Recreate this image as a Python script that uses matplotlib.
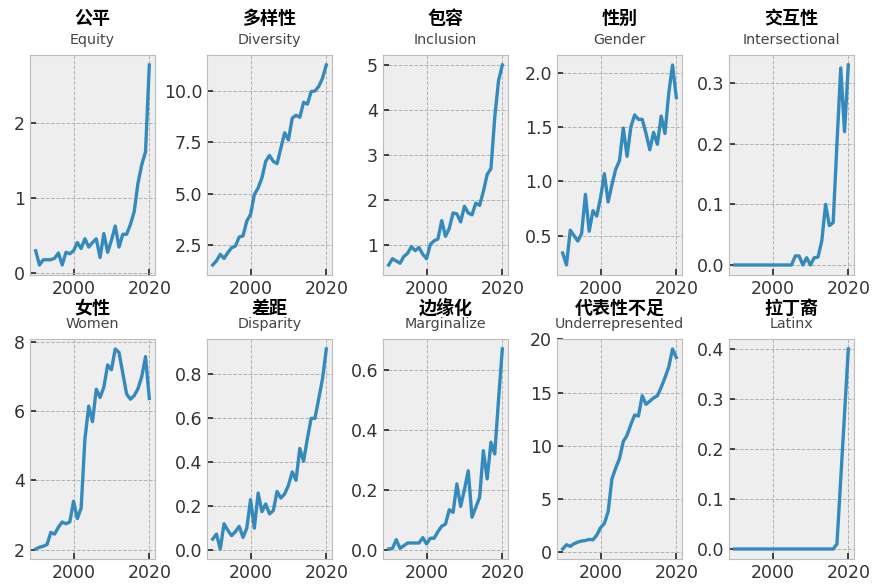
import matplotlib
matplotlib.use("Agg")
import matplotlib.pyplot as plt
from matplotlib.ticker import MultipleLocator

plt.style.use("bmh")

years = list(range(1990, 2021))

titles_zh = ["公平", "多样性", "包容", "性别", "交互性",
             "女性", "差距", "边缘化", "代表性不足", "拉丁裔"]
titles_en = ["Equity", "Diversity", "Inclusion", "Gender", "Intersectional",
             "Women", "Disparity", "Marginalize", "Underrepresented", "Latinx"]

equity = [0.30, 0.11, 0.18, 0.18, 0.18, 0.20, 0.27, 0.11, 0.28, 0.26,
          0.30, 0.41, 0.33, 0.46, 0.35, 0.41, 0.46, 0.21, 0.53, 0.28,
          0.44, 0.63, 0.35, 0.52, 0.52, 0.65, 0.82, 1.20, 1.45, 1.62, 2.78]
diversity = [1.53, 1.73, 2.05, 1.85, 2.13, 2.37, 2.45, 2.89, 2.94, 3.66,
             3.98, 4.95, 5.27, 5.76, 6.56, 6.85, 6.56, 6.45, 7.20, 7.95,
             7.60, 8.66, 8.80, 8.70, 9.43, 9.34, 9.95, 9.98, 10.20, 10.60, 11.24]
inclusion = [0.55, 0.69, 0.64, 0.59, 0.74, 0.81, 0.96, 0.87, 0.94, 0.79,
             0.69, 1.01, 1.09, 1.13, 1.54, 1.19, 1.37, 1.71, 1.69, 1.51,
             1.86, 1.71, 1.67, 1.93, 1.88, 2.19, 2.57, 2.70, 3.84, 4.66, 5.01]
gender = [0.34, 0.23, 0.55, 0.50, 0.45, 0.52, 0.88, 0.54, 0.73, 0.68,
          0.85, 1.07, 0.81, 0.97, 1.11, 1.19, 1.49, 1.23, 1.50, 1.61,
          1.57, 1.57, 1.44, 1.29, 1.45, 1.34, 1.60, 1.44, 1.81, 2.07, 1.77]
intersectional = [0.0, 0.0, 0.0, 0.0, 0.0, 0.0, 0.0, 0.0, 0.0, 0.0,
                  0.0, 0.0, 0.0, 0.0, 0.0, 0.0, 0.015, 0.015, 0.0, 0.012,
                  0.0, 0.012, 0.013, 0.04, 0.10, 0.065, 0.07, 0.20, 0.325, 0.22, 0.33]
women = [2.02, 2.07, 2.10, 2.15, 2.50, 2.45, 2.65, 2.80, 2.75, 2.80,
         3.40, 2.90, 3.20, 5.20, 6.15, 5.70, 6.64, 6.40, 6.70, 7.34,
         7.20, 7.80, 7.70, 7.10, 6.50, 6.35, 6.45, 6.65, 7.00, 7.58, 6.37]
disparity = [0.050, 0.073, 0.005, 0.120, 0.090, 0.066, 0.084, 0.108, 0.058, 0.100,
             0.230, 0.100, 0.260, 0.175, 0.210, 0.165, 0.180, 0.267, 0.237, 0.256,
             0.295, 0.356, 0.318, 0.463, 0.405, 0.508, 0.600, 0.600, 0.690, 0.780, 0.916]
marginalize = [0.002, 0.004, 0.033, 0.004, 0.013, 0.022, 0.022, 0.022, 0.022, 0.040,
               0.019, 0.038, 0.038, 0.060, 0.078, 0.085, 0.133, 0.124, 0.219, 0.144,
               0.200, 0.263, 0.108, 0.141, 0.174, 0.330, 0.236, 0.358, 0.319, 0.500, 0.669]
underrepresented = [0.3, 0.7, 0.55, 0.8, 0.95, 1.05, 1.1, 1.2, 1.17, 1.6,
                    2.3, 2.7, 3.8, 6.9, 7.9, 8.8, 10.4, 11.0, 12.0, 12.9,
                    12.8, 14.7, 13.9, 14.2, 14.5, 14.7, 15.5, 16.4, 17.4, 19.1, 18.3]
latinx = [0.0] * 27 + [0.01, 0.14, 0.27, 0.40]

series = [equity, diversity, inclusion, gender, intersectional,
          women, disparity, marginalize, underrepresented, latinx]

# spacing of the y ticks in each panel
y_steps = [1, 2.5, 1, 0.5, 0.1, 2, 0.2, 0.2, 5, 0.1]

fig = plt.figure(figsize=(8.89, 5.85), dpi=100, facecolor="white")

col_left = [30, 207, 383, 557, 729]
ax_w = 125
row_top = [55, 339]
ax_h = 220
W, H = 889, 585
# offsets (points) of the two title lines above each row of axes
zh_off = [26.5, 22.0]
en_off = [10.5, 11.0]

for i, (vals, zh, en) in enumerate(zip(series, titles_zh, titles_en)):
    r, c = divmod(i, 5)
    ax = fig.add_axes([col_left[c] / W, 1 - (row_top[r] + ax_h) / H,
                       ax_w / W, ax_h / H])
    ax.plot(years, vals, color="#348ABD", lw=2.4)
    ax.set_xticks([2000, 2020])
    ax.yaxis.set_major_locator(MultipleLocator(y_steps[i]))
    ax.tick_params(labelsize=12.5, labelcolor="#333333", color="#333333",
                   width=1.3, length=4)
    ax.grid(True, color="#b2b2b2", linestyle="--", linewidth=0.7)
    ax.annotate(zh, xy=(0.5, 1.0), xycoords="axes fraction",
                xytext=(0, zh_off[r]), textcoords="offset points",
                ha="center", va="center", fontsize=13, fontweight="bold",
                family=["Noto Sans CJK SC", "DejaVu Sans"], color="black")
    ax.annotate(en, xy=(0.5, 1.0), xycoords="axes fraction",
                xytext=(0, en_off[r]), textcoords="offset points",
                ha="center", va="center", fontsize=10.3, color="#444444")

fig.savefig("out.png", dpi=100, facecolor="white")
